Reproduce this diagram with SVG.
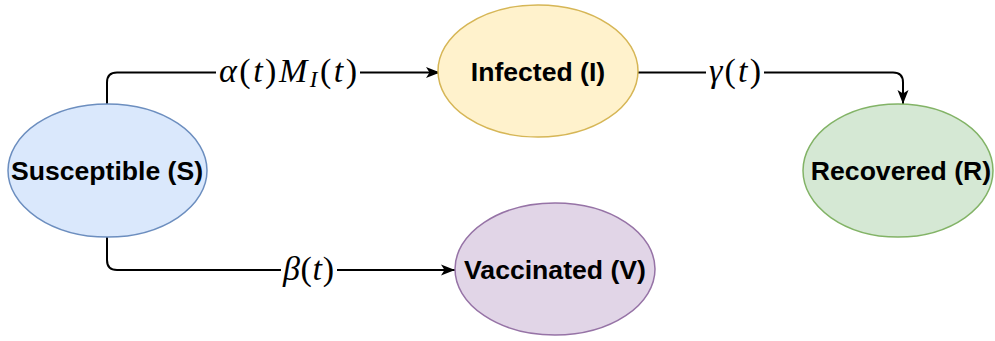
<svg xmlns="http://www.w3.org/2000/svg" width="995" height="341" viewBox="0 0 995 341">
<defs>
<marker id="arr" markerUnits="userSpaceOnUse" markerWidth="16" markerHeight="12" refX="14" refY="6" orient="auto">
<path d="M0,0.5 L14,6 L0,11.5 L3.5,6 Z" fill="#000"/>
</marker>
<style>
.node text{font-family:"Liberation Sans",Arial,sans-serif;font-weight:bold;font-size:26.6px;text-anchor:middle;fill:#000}
.edge{fill:none;stroke:#000;stroke-width:2;marker-end:url(#arr)}
.lbl{font-family:"Liberation Serif","Times New Roman",serif;font-size:34px;fill:#000}
.it{font-style:italic}
</style>
</defs>
<rect width="995" height="341" fill="#fff"/>
<g id="connectors">
<path class="edge" d="M107,104 V82.5 Q107,72.5 117,72.5 H440"/>
<path class="edge" d="M638,72.5 H893 Q903,72.5 903,82.5 V104"/>
<path class="edge" d="M107,237 V260 Q107,270 117,270 H455"/>
<rect x="216" y="52" width="144" height="38" fill="#fff"/>
<rect x="706" y="52" width="58" height="38" fill="#fff"/>
<rect x="281" y="250" width="56" height="38" fill="#fff"/>
<text class="lbl" x="219" y="82" textLength="138" lengthAdjust="spacing"><tspan class="it">α</tspan>(<tspan class="it">t</tspan>)<tspan class="it">M</tspan><tspan class="it" font-size="23" dy="5">I</tspan><tspan dy="-5">(</tspan><tspan class="it">t</tspan>)</text>
<text class="lbl" x="709" y="82" textLength="52" lengthAdjust="spacing"><tspan class="it">γ</tspan>(<tspan class="it">t</tspan>)</text>
<text class="lbl" x="283" y="280" textLength="51" lengthAdjust="spacing"><tspan class="it">β</tspan>(<tspan class="it">t</tspan>)</text>
</g>
<g id="susceptible" class="node">
<ellipse cx="107.5" cy="170.5" rx="99.5" ry="66.5" fill="#dae8fc" stroke="#6c8ebf" stroke-width="1.5"/>
<text x="107" y="180">Susceptible (S)</text>
</g>
<g id="infected" class="node">
<ellipse cx="538" cy="71" rx="100" ry="66" fill="#fff2cc" stroke="#d6b656" stroke-width="1.5"/>
<text x="538" y="81">Infected (I)</text>
</g>
<g id="recovered" class="node">
<ellipse cx="898" cy="170.5" rx="95" ry="66.5" fill="#d5e8d4" stroke="#82b366" stroke-width="1.5"/>
<text x="901" y="180">Recovered (R)</text>
</g>
<g id="vaccinated" class="node">
<ellipse cx="555" cy="269" rx="100" ry="66" fill="#e1d5e7" stroke="#9673a6" stroke-width="1.5"/>
<text x="555" y="279">Vaccinated (V)</text>
</g>
</svg>
